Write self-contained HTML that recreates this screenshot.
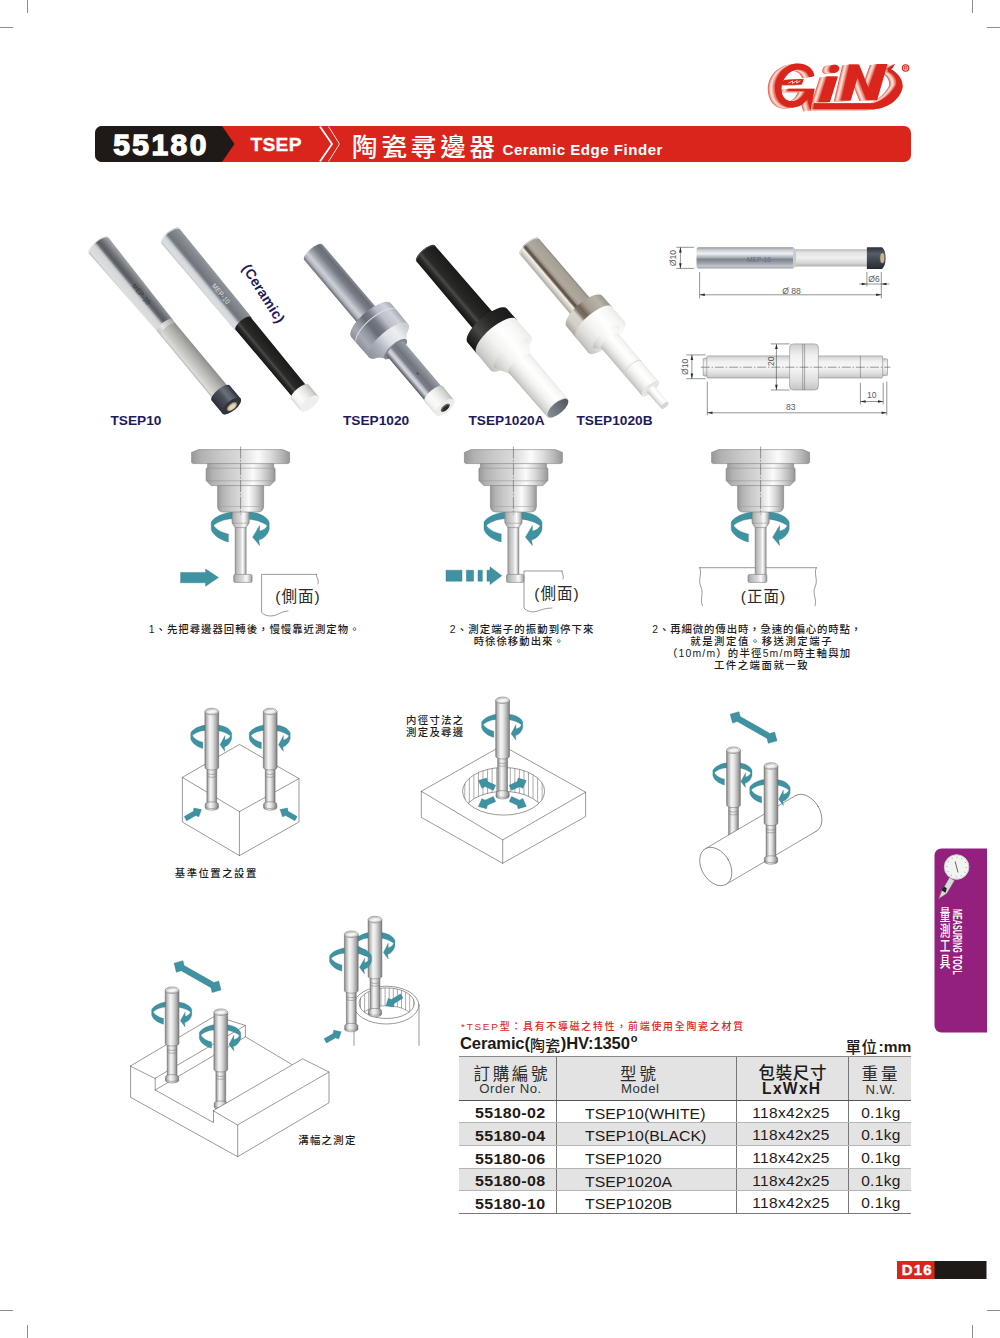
<!DOCTYPE html>
<html lang="zh-Hant">
<head>
<meta charset="utf-8">
<title>55180 TSEP Ceramic Edge Finder</title>
<style>
html,body{margin:0;padding:0;background:#fff}
#page{position:relative;width:1000px;height:1338px;overflow:hidden;background:#fff;font-family:"Liberation Sans",sans-serif;color:#1F1A17}
#art,#cjk{position:absolute;left:0;top:0;display:block}
#cjk{pointer-events:none}
#art text{font-family:"Liberation Sans",sans-serif}
#cjk text{font-family:"Liberation Sans","Noto Sans CJK TC",sans-serif}
.t{position:absolute;white-space:nowrap;line-height:1;margin:0}
.hd{color:#fff;font-weight:bold}
.cj{display:inline-block;font-size:0;line-height:0;letter-spacing:0;color:transparent;overflow:hidden;vertical-align:baseline}
#code{left:113.2px;top:130.2px;font-size:30px;letter-spacing:2.45px;-webkit-text-stroke:1.3px #fff}
#series{left:250.5px;top:135px;font-size:19.2px;letter-spacing:0.3px;-webkit-text-stroke:0.3px #fff}
#title-en{left:502.5px;top:142px;font-size:15.1px;letter-spacing:.5px}
.plabel{color:#1E1A5E;font-weight:bold;font-size:13.7px}
#spec{left:460px;top:1036px;font-size:16.6px;font-weight:bold;color:#1F1A17}
#unit{left:845.5px;top:1039px;font-size:15.5px;font-weight:bold;color:#1F1A17}
#tbl{position:absolute;left:459px;top:1056px;width:452px;border-collapse:collapse;table-layout:fixed;font-size:15px;color:#1F1A17}
#tbl th,#tbl td{padding:0;margin:0;line-height:1;white-space:nowrap;overflow:visible}
#tbl thead th{height:42.5px;background:#E3E3E3;border-top:1px solid #8a8a8a;border-bottom:1px solid #555;font-weight:normal;vertical-align:top;position:relative}
#tbl th+th,#tbl td+td{border-left:1px solid #777}
#tbl tbody td{height:21.7px;border-bottom:1px solid #b5b5b5;text-align:center;vertical-align:middle}
#tbl tbody tr:nth-child(even) td{background:#E3E3E3}
#tbl tbody tr:last-child td{border-bottom:1px solid #777}
#tbl td.no{font-weight:bold;font-size:14.7px;letter-spacing:.3px;padding-left:6px}
#tbl td span{position:relative;display:inline-block}
#tbl td.no span{top:2.4px;transform:scaleX(1.09)}
#tbl td.md span{top:2.3px;transform:scaleX(1.115);transform-origin:0 50%}
#tbl td.pk span{top:1.6px;left:-1px;letter-spacing:.3px;transform:scaleX(1.045)}
#tbl td.wt span{top:1.6px;left:.6px;letter-spacing:.35px;transform:scaleX(1.045)}
#tbl td.md{text-align:left;padding-left:28px;font-size:14.2px}
#tbl td.pk,#tbl td.wt{font-size:14.8px}
#tbl .sub{position:absolute;left:0;right:0;text-align:center;font-size:13.2px;color:#333}
#pageno{left:901.8px;top:1262.3px;font-size:15px;font-weight:bold;color:#fff;letter-spacing:1.1px;-webkit-text-stroke:0.4px #fff}

</style>
</head>
<body>
<div id="page">
<svg id="art" width="1000" height="1338" viewBox="0 0 1000 1338">
<defs>
<linearGradient id="mChrome" x1="0" y1="0" x2="0" y2="1"><stop offset="0" stop-color="#a8abaf"/><stop offset="0.08" stop-color="#96999e"/><stop offset="0.3" stop-color="#676b70"/><stop offset="0.42" stop-color="#585c61"/><stop offset="0.5" stop-color="#74787d"/><stop offset="0.56" stop-color="#bcbec1"/><stop offset="0.63" stop-color="#d6d7d9"/><stop offset="0.9" stop-color="#dddedf"/><stop offset="0.97" stop-color="#c9cacc"/><stop offset="1" stop-color="#adaeb0"/></linearGradient>
<linearGradient id="mChrome2" x1="0" y1="0" x2="0" y2="1"><stop offset="0" stop-color="#9da1a8"/><stop offset="0.1" stop-color="#8b8f96"/><stop offset="0.35" stop-color="#7b7f86"/><stop offset="0.52" stop-color="#70747b"/><stop offset="0.6" stop-color="#8d9198"/><stop offset="0.66" stop-color="#c3c6cc"/><stop offset="0.75" stop-color="#d6d9dd"/><stop offset="0.92" stop-color="#d9dce0"/><stop offset="1" stop-color="#b9bcc2"/></linearGradient>
<linearGradient id="mMatte" x1="0" y1="0" x2="0" y2="1"><stop offset="0" stop-color="#8d8d8a"/><stop offset="0.2" stop-color="#a1a19e"/><stop offset="0.45" stop-color="#b8b8b5"/><stop offset="0.7" stop-color="#cbcbc8"/><stop offset="0.88" stop-color="#dbdbd8"/><stop offset="1" stop-color="#b9b9b6"/></linearGradient>
<linearGradient id="mRing" x1="0" y1="0" x2="0" y2="1"><stop offset="0" stop-color="#a4a4a2"/><stop offset="0.3" stop-color="#c6c6c4"/><stop offset="0.65" stop-color="#e6e6e4"/><stop offset="1" stop-color="#bfbfbd"/></linearGradient>
<linearGradient id="mDarkcap" x1="0" y1="0" x2="0" y2="1"><stop offset="0" stop-color="#2a2e36"/><stop offset="0.18" stop-color="#555b67"/><stop offset="0.36" stop-color="#6a707c"/><stop offset="0.55" stop-color="#4a4f5a"/><stop offset="0.8" stop-color="#3a3f49"/><stop offset="1" stop-color="#2a2d35"/></linearGradient>
<linearGradient id="mBlack" x1="0" y1="0" x2="0" y2="1"><stop offset="0" stop-color="#1b1b1a"/><stop offset="0.3" stop-color="#222221"/><stop offset="0.55" stop-color="#2a2a29"/><stop offset="0.68" stop-color="#4a4a48"/><stop offset="0.76" stop-color="#2e2e2d"/><stop offset="0.9" stop-color="#1d1d1c"/><stop offset="1" stop-color="#141413"/></linearGradient>
<linearGradient id="mWhite" x1="0" y1="0" x2="0" y2="1"><stop offset="0" stop-color="#b9b9b6"/><stop offset="0.15" stop-color="#d4d4d1"/><stop offset="0.4" stop-color="#ededea"/><stop offset="0.65" stop-color="#fbfbfa"/><stop offset="0.88" stop-color="#f2f2f0"/><stop offset="1" stop-color="#d9d9d6"/></linearGradient>
<linearGradient id="mWhiteL" x1="0" y1="0" x2="0" y2="1"><stop offset="0" stop-color="#e9e9e6"/><stop offset="0.12" stop-color="#f6f6f4"/><stop offset="0.35" stop-color="#ffffff"/><stop offset="0.6" stop-color="#f3f3f1"/><stop offset="0.8" stop-color="#dededb"/><stop offset="0.93" stop-color="#cbcbc8"/><stop offset="1" stop-color="#b9b9b6"/></linearGradient>
<linearGradient id="mAlu" x1="0" y1="0" x2="0" y2="1"><stop offset="0" stop-color="#8b9099"/><stop offset="0.15" stop-color="#686d76"/><stop offset="0.35" stop-color="#777c85"/><stop offset="0.55" stop-color="#a3a8b0"/><stop offset="0.72" stop-color="#ccd0d6"/><stop offset="0.85" stop-color="#b2b7bf"/><stop offset="0.95" stop-color="#7b808a"/><stop offset="1" stop-color="#666b74"/></linearGradient>
<linearGradient id="mAluCollar" x1="0" y1="0" x2="0" y2="1"><stop offset="0" stop-color="#a4a9b2"/><stop offset="0.12" stop-color="#cfd2d8"/><stop offset="0.3" stop-color="#b9bdc5"/><stop offset="0.45" stop-color="#747983"/><stop offset="0.58" stop-color="#666b75"/><stop offset="0.7" stop-color="#8d929c"/><stop offset="0.85" stop-color="#a5aab3"/><stop offset="1" stop-color="#8a8f99"/></linearGradient>
<linearGradient id="mNickel" x1="0" y1="0" x2="0" y2="1"><stop offset="0" stop-color="#8e877e"/><stop offset="0.1" stop-color="#a69f96"/><stop offset="0.45" stop-color="#b0a9a0"/><stop offset="0.55" stop-color="#9a9289"/><stop offset="0.6" stop-color="#6b5d4e"/><stop offset="0.66" stop-color="#5e5245"/><stop offset="0.7" stop-color="#8c8378"/><stop offset="0.74" stop-color="#f2f0ec"/><stop offset="0.8" stop-color="#e5e2dc"/><stop offset="0.9" stop-color="#c9c5be"/><stop offset="1" stop-color="#aaa59d"/></linearGradient>
<linearGradient id="mBlackCollar" x1="0" y1="0" x2="0" y2="1"><stop offset="0" stop-color="#1a1a19"/><stop offset="0.4" stop-color="#272726"/><stop offset="0.7" stop-color="#474745"/><stop offset="0.85" stop-color="#2b2b2a"/><stop offset="1" stop-color="#161615"/></linearGradient>
<linearGradient id="mAlu2" x1="0" y1="0" x2="0" y2="1"><stop offset="0" stop-color="#9ca1aa"/><stop offset="0.15" stop-color="#8a8f98"/><stop offset="0.4" stop-color="#6f747d"/><stop offset="0.58" stop-color="#7a7f88"/><stop offset="0.7" stop-color="#c3c7ce"/><stop offset="0.8" stop-color="#d3d6dc"/><stop offset="0.9" stop-color="#8e939c"/><stop offset="1" stop-color="#4f545d"/></linearGradient>
<linearGradient id="mAluBevel" x1="0" y1="0" x2="0" y2="1"><stop offset="0" stop-color="#c4c8cf"/><stop offset="0.25" stop-color="#eceef1"/><stop offset="0.5" stop-color="#dcdfe4"/><stop offset="0.75" stop-color="#a9aeb7"/><stop offset="1" stop-color="#8f949e"/></linearGradient>
<linearGradient id="mNickelCollar" x1="0" y1="0" x2="0" y2="1"><stop offset="0" stop-color="#9c958b"/><stop offset="0.15" stop-color="#b9b2a8"/><stop offset="0.4" stop-color="#a59e94"/><stop offset="0.52" stop-color="#6f6255"/><stop offset="0.6" stop-color="#7d7166"/><stop offset="0.68" stop-color="#d9d5ce"/><stop offset="0.85" stop-color="#d3cec6"/><stop offset="1" stop-color="#a9a39a"/></linearGradient>
<linearGradient id="mSteelFace" x1="0" y1="0" x2="0" y2="1"><stop offset="0" stop-color="#50555e"/><stop offset="0.5" stop-color="#6c717a"/><stop offset="1" stop-color="#8a8f97"/></linearGradient>
<linearGradient id="tdChrome" x1="0" y1="0" x2="0" y2="1"><stop offset="0" stop-color="#8f949c"/><stop offset=".12" stop-color="#c9ccd2"/><stop offset=".3" stop-color="#eef0f3"/><stop offset=".45" stop-color="#b9bdc4"/><stop offset=".58" stop-color="#7f848d"/><stop offset=".75" stop-color="#9ea3ab"/><stop offset=".9" stop-color="#c4c7cd"/><stop offset="1" stop-color="#9a9ea6"/></linearGradient>
<linearGradient id="tdMatte" x1="0" y1="0" x2="0" y2="1"><stop offset="0" stop-color="#b9b9b8"/><stop offset=".2" stop-color="#e4e4e3"/><stop offset=".5" stop-color="#efefee"/><stop offset=".8" stop-color="#d6d6d5"/><stop offset="1" stop-color="#b0b0af"/></linearGradient>
<linearGradient id="tdCap" x1="0" y1="0" x2="0" y2="1"><stop offset="0" stop-color="#2d313b"/><stop offset=".3" stop-color="#565c69"/><stop offset=".55" stop-color="#444954"/><stop offset="1" stop-color="#262a32"/></linearGradient>
<linearGradient id="tdBody" x1="0" y1="0" x2="0" y2="1"><stop offset="0" stop-color="#cfcfcf"/><stop offset=".25" stop-color="#f0f0f0"/><stop offset=".5" stop-color="#f7f7f7"/><stop offset=".8" stop-color="#dedede"/><stop offset="1" stop-color="#c4c4c4"/></linearGradient>
<path id="arrU" d="M0 0L-1.300 5.200H1.300Z"/>
<linearGradient id="spG" x1="0" y1="0" x2="1" y2="0"><stop offset="0" stop-color="#989898"/><stop offset=".1" stop-color="#b2b2b2"/><stop offset=".3" stop-color="#c9c9c9"/><stop offset=".5" stop-color="#dadada"/><stop offset=".68" stop-color="#fbfbfb"/><stop offset=".8" stop-color="#dddddd"/><stop offset=".92" stop-color="#b6b6b6"/><stop offset="1" stop-color="#979797"/></linearGradient>
<g id="rot" fill="#3E92A1" stroke="#2F7785" stroke-width=".35" stroke-linejoin="round"><path d="M-8.60 -12.00 C-16.60 -11.20 -26.20 -7.20 -29.40 -2.00 L-29.40 5.60 C-27.80 11.20 -19.80 16.40 -12.20 18.00 L-12.20 10.00 C-18.20 8.80 -24.60 5.60 -27.00 1.44 C-23.80 -2.00 -15.80 -4.80 -8.60 -5.20 Z"/><path d="M8.60 -12.00 C17.00 -11.60 25.80 -8.00 28.60 -2.00 L28.60 5.20 C27.40 10.40 23.40 14.40 18.20 16.00 L19.00 21.60 L12.04 13.20 L19.00 1.44 L19.00 7.20 C22.60 6.40 25.40 4.40 26.76 1.76 C23.40 -1.20 16.20 -4.00 8.60 -4.80 Z"/></g>
<linearGradient id="vtG" x1="0" y1="0" x2="1" y2="0"><stop offset="0" stop-color="#808080"/><stop offset=".12" stop-color="#b4b4b4"/><stop offset=".36" stop-color="#f5f5f5"/><stop offset=".56" stop-color="#e2e2e2"/><stop offset=".8" stop-color="#b0b0b0"/><stop offset="1" stop-color="#7b7b7b"/></linearGradient>
<linearGradient id="vtTop" x1="0" y1="0" x2="1" y2="1"><stop offset="0" stop-color="#c9c9c9"/><stop offset=".5" stop-color="#f7f7f7"/><stop offset="1" stop-color="#d3d3d3"/></linearGradient>
<clipPath id="boreTop"><ellipse cx="503.60" cy="791.30" rx="41.00" ry="23.80"/></clipPath>
<clipPath id="tubeIn"><ellipse cx="386.700" cy="1003.200" rx="27.600" ry="15.300"/></clipPath>
</defs>
<g id="cropmarks" stroke="#8c8c8c" stroke-width="1" fill="none">
<path d="M27.5 0V13M0 27.5H13M972.5 0V13M987 27.5H1000M0 1310.5H13M27.5 1325V1338M987 1310.5H1000M972.5 1325V1338"/>
</g>
<g id="headerbar">
<rect x="95" y="126" width="816" height="36" rx="7" ry="7" fill="#DA251D"/>
<path d="M102 126H222L234.5 144L222 162H102A7 7 0 0 1 95 155V133A7 7 0 0 1 102 126Z" fill="#1F1A17"/>
<path d="M320 126.5L332 144L320 161.500" fill="none" stroke="#fff" stroke-width="1.8"/>
<path d="M328.500 126.500L339.500 144L328.500 161.500" fill="none" stroke="#fff" stroke-width="0.9"/>
</g>
<g id="footer">
<rect x="897" y="1261" width="38" height="18" fill="#DA251D"/>
<rect x="934.500" y="1261" width="52" height="18" fill="#1F1A17"/>
</g>
<g id="logo" transform="translate(762 56) scale(0.08)">
<defs>
<path id="lg-a" d="M655 250C650 170 570 95 450 95C300 95 160 230 160 400C160 540 240 645 370 645C460 645 530 600 565 545L605 690L660 408L330 408L318 440L535 440C510 510 450 565 380 565C290 565 240 500 245 400C250 290 340 180 440 170C510 165 570 200 590 265Z"/>
<path id="lg-b" d="M240 335L290 298L522 288L500 355L262 362Z"/>
<path id="lg-d" d="M905 108C950 108 972 132 966 162C960 195 925 213 890 212C850 211 835 188 842 158C849 128 875 108 905 108Z"/>
<path id="lg-e" d="M808 255L950 255L850 575L705 575Z"/>
<path id="lg-f" d="M985 555L1090 105L1215 105L1330 395L1435 100L1570 100L1440 550L1305 550L1195 270L1110 555Z"/>
<path id="lg-g" d="M650 590L1395 590C1515 560 1615 470 1675 360C1690 300 1650 230 1575 195L1575 150C1665 175 1760 270 1760 380C1740 520 1600 650 1395 665L640 665Z"/>
<path id="lg-h" d="M1560 160L1665 98L1640 140L1600 185Z"/>
</defs>
<g fill="#e06a58" transform="translate(-88.0 14.0)"><use href="#lg-a"/><use href="#lg-b"/><use href="#lg-d"/><use href="#lg-e"/><use href="#lg-f"/><use href="#lg-g"/><use href="#lg-h"/></g>
<g fill="#ef9f91" transform="translate(-75.4 12.0)"><use href="#lg-a"/><use href="#lg-b"/><use href="#lg-d"/><use href="#lg-e"/><use href="#lg-f"/><use href="#lg-g"/><use href="#lg-h"/></g>
<g fill="#f8cfc7" transform="translate(-62.9 10.0)"><use href="#lg-a"/><use href="#lg-b"/><use href="#lg-d"/><use href="#lg-e"/><use href="#lg-f"/><use href="#lg-g"/><use href="#lg-h"/></g>
<g fill="#fbe3de" transform="translate(-50.3 8.0)"><use href="#lg-a"/><use href="#lg-b"/><use href="#lg-d"/><use href="#lg-e"/><use href="#lg-f"/><use href="#lg-g"/><use href="#lg-h"/></g>
<g fill="#f5bdb2" transform="translate(-37.7 6.0)"><use href="#lg-a"/><use href="#lg-b"/><use href="#lg-d"/><use href="#lg-e"/><use href="#lg-f"/><use href="#lg-g"/><use href="#lg-h"/></g>
<g fill="#ec9080" transform="translate(-25.1 4.0)"><use href="#lg-a"/><use href="#lg-b"/><use href="#lg-d"/><use href="#lg-e"/><use href="#lg-f"/><use href="#lg-g"/><use href="#lg-h"/></g>
<g fill="#e56f5e" transform="translate(-12.6 2.0)"><use href="#lg-a"/><use href="#lg-b"/><use href="#lg-d"/><use href="#lg-e"/><use href="#lg-f"/><use href="#lg-g"/><use href="#lg-h"/></g>
<g fill="#DA251D"><use href="#lg-a"/><use href="#lg-b"/><use href="#lg-d"/><use href="#lg-e"/><use href="#lg-f"/><use href="#lg-g"/><use href="#lg-h"/></g>
<circle cx="1795" cy="150" r="40" fill="#f6c9c0" stroke="#DA251D" stroke-width="14"/>
<path d="M1780 172V128H1800Q1814 128 1814 140Q1814 152 1800 152H1780M1800 152L1816 172" fill="none" stroke="#DA251D" stroke-width="9"/>
<path d="M330 340L385 312L378 342L440 308L432 338L480 310" fill="none" stroke="#fff" stroke-width="11" opacity=".85"/>
</g>
<g id="photos">
<g id="tool1" transform="translate(98.60 245.40) rotate(50.40)"><path d="M0.00 -12.60A4.54 12.60 0 0 0 0.00 12.60L104.00 9.90A3.56 9.90 0 0 0 104.00 -9.90Z" fill="url(#mChrome)"/><path d="M0 -12.400A4.400 12.400 0 0 0 0 12.400" fill="none" stroke="#f4f4f5" stroke-width="1" opacity=".7"/><text x="58" y="0.800" font-size="7.400" fill="#2e2e32" opacity=".8" transform="scale(.9 1)" letter-spacing=".2">MEP-10</text><path d="M104.00 -9.80A3.53 9.80 0 0 0 104.00 9.80L109.50 9.60A3.46 9.60 0 0 0 109.50 -9.60Z" fill="url(#mRing)"/><path d="M109.50 -9.60A3.46 9.60 0 0 0 109.50 9.60L192.50 9.90A3.56 9.90 0 0 0 192.50 -9.90Z" fill="url(#mMatte)"/><path d="M191.50 -11.80A4.25 11.80 0 0 0 191.50 11.80L208.50 11.80A4.25 11.80 0 0 0 208.50 -11.80Z" fill="url(#mDarkcap)"/><ellipse cx="208.50" cy="0" rx="4.96" ry="11.80" fill="#30343c"/><ellipse cx="209.10" cy="0" rx="3.10" ry="6.20" fill="#8c7a63"/><ellipse cx="209.40" cy="0" rx="2.60" ry="5.20" fill="#cdb693"/><ellipse cx="209.70" cy="0" rx="1.80" ry="3.60" fill="#e7d8bd"/></g>
<g id="tool2" transform="translate(170.25 235.75) rotate(50.30)"><path d="M0.00 -11.70A4.21 11.70 0 0 0 0.00 11.70L114.00 10.60A3.82 10.60 0 0 0 114.00 -10.60Z" fill="url(#mChrome2)"/><path d="M0.500 -11.400A4.100 11.400 0 0 0 0.500 11.400" fill="none" stroke="#eceef1" stroke-width="1" opacity=".75"/><text x="72" y="0.500" font-size="7.200" fill="#f1f2f5" opacity=".85" transform="scale(.9 1)" letter-spacing=".2">MEP-10</text><path d="M114.00 -9.80A3.53 9.80 0 0 0 114.00 9.80L204.00 9.00A3.24 9.00 0 0 0 204.00 -9.00Z" fill="url(#mBlack)"/><path d="M203.00 -11.40A4.10 11.40 0 0 0 203.00 11.40L218.00 11.40A4.10 11.40 0 0 0 218.00 -11.40Z" fill="url(#mWhite)"/><ellipse cx="218.00" cy="0" rx="4.79" ry="11.40" fill="#efefec"/></g>
<g id="tool3" transform="translate(313.40 252.20) rotate(49.70)"><path d="M0.00 -12.00A4.32 12.00 0 0 0 0.00 12.00L92.00 12.30A4.43 12.30 0 0 0 92.00 -12.30Z" fill="url(#mAlu)"/><path d="M89.00 -26.00A9.36 26.00 0 0 0 89.00 26.00L97.00 26.00A9.36 26.00 0 0 0 97.00 -26.00Z" fill="url(#mAluCollar)"/><ellipse cx="97.00" cy="0" rx="9.36" ry="26.00" fill="#dfe2e7"/><path d="M98.00 -26.00A9.36 26.00 0 0 0 98.00 26.00L116.00 25.60A9.22 25.60 0 0 0 116.00 -25.60Z" fill="url(#mAluCollar)"/><ellipse cx="116.00" cy="0" rx="9.22" ry="25.60" fill="url(#mAluBevel)"/><path d="M116.00 -23.50A8.46 23.50 0 0 0 116.00 23.50L127.00 14.50A5.22 14.50 0 0 0 127.00 -14.50Z" fill="url(#mAluBevel)"/><ellipse cx="127.00" cy="0" rx="5.22" ry="14.50" fill="#80858f"/><path d="M127.00 -11.00A3.96 11.00 0 0 0 127.00 11.00L187.00 11.00A3.96 11.00 0 0 0 187.00 -11.00Z" fill="url(#mAlu2)"/><ellipse cx="160" cy="-1" rx="1.400" ry="1" fill="#4c5058"/><path d="M186.00 -12.00A4.32 12.00 0 0 0 186.00 12.00L203.50 11.60A4.18 11.60 0 0 0 203.50 -11.60Z" fill="url(#mWhite)"/><ellipse cx="203.50" cy="0" rx="5.22" ry="11.60" fill="#ecece9"/><ellipse cx="204.00" cy="0" rx="2.52" ry="5.60" fill="#5a5a5e"/><ellipse cx="204.60" cy="0" rx="1.71" ry="3.80" fill="#2a2a2d"/></g>
<g id="tool4" transform="translate(425.60 253.40) rotate(49.50)"><path d="M0.00 -12.20A4.39 12.20 0 0 0 0.00 12.20L97.00 13.00A4.68 13.00 0 0 0 97.00 -13.00Z" fill="url(#mBlack)"/><path d="M0.500 -11.800A4.200 11.800 0 0 0 0.500 11.800" fill="none" stroke="#5a5a58" stroke-width="1" opacity=".8"/><path d="M95.00 -26.00A9.36 26.00 0 0 0 95.00 26.00L109.00 26.20A9.43 26.20 0 0 0 109.00 -26.20Z" fill="url(#mBlackCollar)"/><path d="M109.00 -26.20A9.43 26.20 0 0 0 109.00 26.20L131.00 26.40A9.50 26.40 0 0 0 131.00 -26.40Z" fill="url(#mWhiteL)"/><ellipse cx="131.00" cy="0" rx="9.50" ry="26.40" fill="url(#mWhiteL)"/><path d="M132.00 -22.00A7.92 22.00 0 0 0 132.00 22.00L146.00 14.30A5.15 14.30 0 0 0 146.00 -14.30Z" fill="url(#mWhiteL)"/><path d="M145.00 -14.30A5.15 14.30 0 0 0 145.00 14.30L203.00 13.70A4.93 13.70 0 0 0 203.00 -13.70Z" fill="url(#mWhiteL)"/><ellipse cx="203.00" cy="0" rx="5.75" ry="13.70" fill="#d9d9d6"/><ellipse cx="203.60" cy="0" rx="5.42" ry="12.90" fill="url(#mSteelFace)"/></g>
<g id="tool5" transform="translate(529.20 246.20) rotate(49.60)"><path d="M0.00 -12.30A4.43 12.30 0 0 0 0.00 12.30L87.00 12.80A4.61 12.80 0 0 0 87.00 -12.80Z" fill="url(#mNickel)"/><path d="M0.500 -11.900A4.300 11.900 0 0 0 0.500 11.900" fill="none" stroke="#e8e5e0" stroke-width="1" opacity=".8"/><path d="M85.00 -23.50A8.46 23.50 0 0 0 85.00 23.50L100.00 23.80A8.57 23.80 0 0 0 100.00 -23.80Z" fill="url(#mNickelCollar)"/><path d="M100.00 -23.80A8.57 23.80 0 0 0 100.00 23.80L119.00 24.00A8.64 24.00 0 0 0 119.00 -24.00Z" fill="url(#mWhiteL)"/><ellipse cx="119.00" cy="0" rx="8.64" ry="24.00" fill="url(#mWhiteL)"/><path d="M119.50 -17.00A6.12 17.00 0 0 0 119.50 17.00L125.50 11.40A4.10 11.40 0 0 0 125.50 -11.40Z" fill="url(#mWhiteL)"/><path d="M124.50 -11.20A4.03 11.20 0 0 0 124.50 11.20L187.00 11.00A3.96 11.00 0 0 0 187.00 -11.00Z" fill="url(#mWhiteL)"/><path d="M160 -11.100A4 11.100 0 0 0 160 11.100" fill="none" stroke="#d2d2ce" stroke-width=".8"/><ellipse cx="187.00" cy="0" rx="3.96" ry="11.00" fill="#e6e6e3"/><path d="M188.00 -4.90A1.76 4.90 0 0 0 188.00 4.90L209.00 4.60A1.66 4.60 0 0 0 209.00 -4.60Z" fill="url(#mWhiteL)"/><ellipse cx="209.00" cy="0" rx="2.07" ry="4.60" fill="#d6d6d3"/></g>
<text transform="translate(241.500 268) rotate(57.500)" font-size="14" font-weight="bold" fill="#1E1A5E" letter-spacing=".25">(Ceramic)</text>
</g>
<g id="techdraw" font-size="8.400" fill="#5a5a5a">
<g id="td1">
<path d="M698.500 247.300H793.200V268.400H698.500Q696.500 268.400 696.500 266V249.700Q696.500 247.300 698.500 247.300Z" fill="url(#tdChrome)"/>
<rect x="793.200" y="249.200" width="73.900" height="17.300" fill="url(#tdMatte)"/>
<path d="M793.200 247.300L796 249.200V266.500L793.200 268.400Z" fill="#c9cace"/>
<path d="M866.900 247.300H882Q885.600 250 885.600 258.100Q885.600 266 882 268.900H866.900Z" fill="url(#tdCap)"/>
<ellipse cx="882.300" cy="258.100" rx="2.300" ry="5.200" fill="#cdb592" stroke="#6d6458" stroke-width=".5"/>
<text x="758.900" y="261.600" text-anchor="middle" font-size="6.600" fill="#6a6e76">MEP-10</text>
<g stroke="#3a3a3a" stroke-width=".55" fill="none">
<path d="M676.300 247.300H694M676.300 268.400H694M680.400 247.300V268.400"/>
<path d="M866.900 272V286.400M881.300 272V286.400M859 284H889.500"/>
<path d="M699.600 272V298.400M881.300 286V298.400M699.600 294.800H881.300"/>
</g>
<g fill="#2a2a2a">
<use href="#arrU" transform="translate(680.400 247.300)"/>
<use href="#arrU" transform="translate(680.400 268.400) rotate(180)"/>
<use href="#arrU" transform="translate(866.900 284) rotate(90)"/>
<use href="#arrU" transform="translate(881.300 284) rotate(-90)"/>
<use href="#arrU" transform="translate(699.600 294.800) rotate(-90)"/>
<use href="#arrU" transform="translate(881.300 294.800) rotate(90)"/>
</g>
<text transform="translate(675.800 258) rotate(-90)" text-anchor="middle" font-size="8.600">&#216;10</text>
<text x="874" y="282" text-anchor="middle" font-size="8.600">&#216;6</text>
<text x="791.500" y="294.300" text-anchor="middle" font-size="8.600">&#216; 88</text>
</g>
<g id="td2">
<g stroke="#8b8b8b" stroke-width=".6">
<rect x="703.200" y="358.300" width="5" height="17.700" rx="1" fill="url(#tdBody)"/>
<rect x="880" y="358.800" width="7.500" height="16.800" rx="1" fill="url(#tdBody)"/>
<rect x="706.800" y="355.900" width="175.900" height="22.100" rx="1.200" fill="url(#tdBody)"/>
<rect x="789.600" y="343.900" width="28.800" height="46.100" rx="3.800" fill="url(#tdBody)"/>
<path d="M802.700 343.900V390M804.600 343.900V390M860.400 355.900V378" fill="none" stroke="#777"/>
</g>
<path d="M700.800 367.200H890.400" stroke="#444" stroke-width=".55" stroke-dasharray="9 1.800 1.500 1.800" fill="none"/>
<g stroke="#3a3a3a" stroke-width=".55" fill="none">
<path d="M686.400 354.900H705.600M686.400 378.700H705.600M691.900 354.900V378.700"/>
<path d="M770.900 343.900H789.600M770.900 390H789.600M776.400 343.900V390"/>
<path d="M860.400 382.800V404.400M883.200 382.800V404.400M860.400 401.500H883.200"/>
<path d="M707.300 381.600V415.200M886.800 381.600V415.200M707.300 412.800H886.800"/>
</g>
<g fill="#2a2a2a">
<use href="#arrU" transform="translate(691.900 354.900)"/>
<use href="#arrU" transform="translate(691.900 378.700) rotate(180)"/>
<use href="#arrU" transform="translate(776.400 343.900)"/>
<use href="#arrU" transform="translate(776.400 390) rotate(180)"/>
<use href="#arrU" transform="translate(860.400 401.500) rotate(-90)"/>
<use href="#arrU" transform="translate(883.200 401.500) rotate(90)"/>
<use href="#arrU" transform="translate(707.300 412.800) rotate(-90)"/>
<use href="#arrU" transform="translate(886.800 412.800) rotate(90)"/>
</g>
<text transform="translate(688.400 366.800) rotate(-90)" text-anchor="middle" font-size="8.600">&#216;10</text>
<text transform="translate(773.600 361.200) rotate(-90)" text-anchor="middle" font-size="8.600">20</text>
<text x="871.800" y="398.400" text-anchor="middle" font-size="8.600">10</text>
<text x="790.800" y="410.400" text-anchor="middle" font-size="8.600">83</text>
</g>
</g>
<g id="spindles">
<g fill="none" stroke="#555" stroke-width=".6" stroke-linejoin="round" stroke-linecap="round"><path d="M316.400 574.400H261.600V612.400C264 615.500 269 616.500 274 615.600C279 614.500 281 611.500 288 611"/><path d="M316.400 574.400C316 578 319.500 579.500 318 584"/><path d="M562 571H524V608C527 611.500 532 612.500 536 611.500C541 610 543 608.500 552 608"/><path d="M562 571C561.500 574 564.500 575.500 563 579"/><path d="M699.700 567.700H816.300"/><path d="M699.700 567.700C702.500 574 697.500 580 701 587C704 594 699.500 600 702.400 605.500"/><path d="M816.300 567.700C813.500 574 818.500 580 815 587C812 594 817.500 600 815 605.500"/></g>
<g id="sp1"><use href="#rot" x="240.60" y="524"/><rect x="235.10" y="526" width="11" height="49.500" fill="url(#spG)" stroke="#777" stroke-width=".55"/><rect x="233.70" y="574.400" width="18.40" height="8" rx="1.500" fill="url(#spG)" stroke="#777" stroke-width=".55"/><path d="M232.00 511V522.600L233.00 524.400L235.10 527.600H246.10L248.20 524.400L249.20 522.600V511Z" fill="url(#spG)" stroke="#777" stroke-width=".55" stroke-linejoin="round"/><path d="M232.30 523.200H248.90" stroke="#8a8a8a" stroke-width=".5"/><path d="M217.60 484V506Q217.60 512 223.60 512H257.60Q263.60 512 263.60 506V484Z" fill="url(#spG)" stroke="#777" stroke-width=".55"/><path d="M217.80 506.500H263.40" stroke="#9a9a9a" stroke-width=".5"/><path d="M207.60 462.00 L207.60 467.40 L206.10 468.60 L206.10 480.50 L211.10 485.60 L270.10 485.60 L275.10 480.50 L275.10 468.60 L273.60 467.40 L273.60 462.00Z" fill="url(#spG)" stroke="#777" stroke-width=".55" stroke-linejoin="round"/><path d="M206.60 468.200H274.60M206.40 480.800H274.80" stroke="#8d8d8d" stroke-width=".5"/><path d="M198.60 449.60 L191.60 452.40 L191.60 462.40 L192.80 463.60 L288.40 463.60 L289.60 462.40 L289.60 452.40 L282.60 449.60Z" fill="url(#spG)" stroke="#777" stroke-width=".55" stroke-linejoin="round"/><path d="M240.60 446.500V514.500" stroke="#555" stroke-width=".55" stroke-dasharray="12 1.600 1.600 1.600" fill="none"/></g>
<g id="sp2"><use href="#rot" x="513.40" y="524"/><rect x="507.90" y="526" width="11" height="49.500" fill="url(#spG)" stroke="#777" stroke-width=".55"/><rect x="506.50" y="574.400" width="17.50" height="8" rx="1.500" fill="url(#spG)" stroke="#777" stroke-width=".55"/><path d="M504.80 511V522.600L505.80 524.400L507.90 527.600H518.90L521.00 524.400L522.00 522.600V511Z" fill="url(#spG)" stroke="#777" stroke-width=".55" stroke-linejoin="round"/><path d="M505.10 523.200H521.70" stroke="#8a8a8a" stroke-width=".5"/><path d="M490.40 484V506Q490.40 512 496.40 512H530.40Q536.40 512 536.40 506V484Z" fill="url(#spG)" stroke="#777" stroke-width=".55"/><path d="M490.60 506.500H536.20" stroke="#9a9a9a" stroke-width=".5"/><path d="M480.40 462.00 L480.40 467.40 L478.90 468.60 L478.90 480.50 L483.90 485.60 L542.90 485.60 L547.90 480.50 L547.90 468.60 L546.40 467.40 L546.40 462.00Z" fill="url(#spG)" stroke="#777" stroke-width=".55" stroke-linejoin="round"/><path d="M479.40 468.200H547.40M479.20 480.800H547.60" stroke="#8d8d8d" stroke-width=".5"/><path d="M471.40 449.60 L464.40 452.40 L464.40 462.40 L465.60 463.60 L561.20 463.60 L562.40 462.40 L562.40 452.40 L555.40 449.60Z" fill="url(#spG)" stroke="#777" stroke-width=".55" stroke-linejoin="round"/><path d="M513.40 446.500V514.500" stroke="#555" stroke-width=".55" stroke-dasharray="12 1.600 1.600 1.600" fill="none"/></g>
<g id="sp3"><use href="#rot" x="760.60" y="524"/><rect x="755.10" y="526" width="11" height="49.500" fill="url(#spG)" stroke="#777" stroke-width=".55"/><rect x="748.00" y="574.400" width="18.90" height="8" rx="1.500" fill="url(#spG)" stroke="#777" stroke-width=".55"/><path d="M752.00 511V522.600L753.00 524.400L755.10 527.600H766.10L768.20 524.400L769.20 522.600V511Z" fill="url(#spG)" stroke="#777" stroke-width=".55" stroke-linejoin="round"/><path d="M752.30 523.200H768.90" stroke="#8a8a8a" stroke-width=".5"/><path d="M737.60 484V506Q737.60 512 743.60 512H777.60Q783.60 512 783.60 506V484Z" fill="url(#spG)" stroke="#777" stroke-width=".55"/><path d="M737.80 506.500H783.40" stroke="#9a9a9a" stroke-width=".5"/><path d="M727.60 462.00 L727.60 467.40 L726.10 468.60 L726.10 480.50 L731.10 485.60 L790.10 485.60 L795.10 480.50 L795.10 468.60 L793.60 467.40 L793.60 462.00Z" fill="url(#spG)" stroke="#777" stroke-width=".55" stroke-linejoin="round"/><path d="M726.60 468.200H794.60M726.40 480.800H794.80" stroke="#8d8d8d" stroke-width=".5"/><path d="M718.60 449.60 L711.60 452.40 L711.60 462.40 L712.80 463.60 L808.40 463.60 L809.60 462.40 L809.60 452.40 L802.60 449.60Z" fill="url(#spG)" stroke="#777" stroke-width=".55" stroke-linejoin="round"/><path d="M760.60 446.500V514.500" stroke="#555" stroke-width=".55" stroke-dasharray="12 1.600 1.600 1.600" fill="none"/></g>
<path d="M180.600 572.400H205.600V569L218.500 577.600L205.600 586.200V582.800H180.600Z" fill="#3E92A1" stroke="#2F7785" stroke-width=".4"/>
<path d="M446 570.200H462V581.200H446ZM466.400 570.200H473.600V581.200H466.400ZM478 570.200H482.400V581.200H478ZM487 570.200H490V566.800L501.800 575.700L490 584.600V581.200H487Z" fill="#3E92A1" stroke="#2F7785" stroke-width=".4"/>
</g>
<g id="blocks">
<path d="M182.40 777.40L239.40 744.40L299.00 778.60L239.40 811.60L182.40 777.40" fill="none" stroke="#555" stroke-width=".6" stroke-linejoin="round" stroke-linecap="round"/><path d="M182.40 777.40L182.40 822.00L239.40 855.60L299.00 822.00L299.00 778.60" fill="none" stroke="#555" stroke-width=".6" stroke-linejoin="round" stroke-linecap="round"/><path d="M239.40 811.60L239.40 855.60" fill="none" stroke="#555" stroke-width=".6" stroke-linejoin="round" stroke-linecap="round"/>
<use href="#rot" transform="translate(211.50 734.49) scale(0.707 0.783)"/><path d="M206.90 767.80V804.10H216.70V767.80Z" fill="url(#vtG)" stroke="#666" stroke-width=".5" stroke-linejoin="round"/><path d="M206.90 772.80A4.90 1.700 0 0 0 216.70 772.80M206.90 775.60A4.90 1.700 0 0 0 216.70 775.60" fill="none" stroke="#777" stroke-width=".5"/><path d="M205.20 804.10V807.70A6.60 2.500 0 0 0 218.40 807.70V804.10A6.60 2.300 0 0 0 205.20 804.10Z" fill="url(#vtG)" stroke="#666" stroke-width=".5" stroke-linejoin="round"/><path d="M205.20 806.20A6.60 2.400 0 0 0 218.40 806.20" fill="none" stroke="#777" stroke-width=".5"/><path d="M204.90 711.50V767.40A6.90 2.600 0 0 0 218.70 767.40V711.50Z" fill="url(#vtG)" stroke="#666" stroke-width=".5" stroke-linejoin="round"/><ellipse cx="211.80" cy="711.50" rx="6.90" ry="3.300" fill="url(#vtTop)" stroke="#666" stroke-width=".5" stroke-linejoin="round"/><ellipse cx="211.80" cy="711.70" rx="5.40" ry="2.300" fill="none" stroke="#8a8a8a" stroke-width=".4"/>
<use href="#rot" transform="translate(270.00 734.49) scale(0.707 0.783)"/><path d="M265.30 767.80V804.10H275.10V767.80Z" fill="url(#vtG)" stroke="#666" stroke-width=".5" stroke-linejoin="round"/><path d="M265.30 772.80A4.90 1.700 0 0 0 275.10 772.80M265.30 775.60A4.90 1.700 0 0 0 275.10 775.60" fill="none" stroke="#777" stroke-width=".5"/><path d="M263.60 804.10V807.70A6.60 2.500 0 0 0 276.80 807.70V804.10A6.60 2.300 0 0 0 263.60 804.10Z" fill="url(#vtG)" stroke="#666" stroke-width=".5" stroke-linejoin="round"/><path d="M263.60 806.20A6.60 2.400 0 0 0 276.80 806.20" fill="none" stroke="#777" stroke-width=".5"/><path d="M263.30 711.50V767.40A6.90 2.600 0 0 0 277.10 767.40V711.50Z" fill="url(#vtG)" stroke="#666" stroke-width=".5" stroke-linejoin="round"/><ellipse cx="270.20" cy="711.50" rx="6.90" ry="3.300" fill="url(#vtTop)" stroke="#666" stroke-width=".5" stroke-linejoin="round"/><ellipse cx="270.20" cy="711.70" rx="5.40" ry="2.300" fill="none" stroke="#8a8a8a" stroke-width=".4"/>
<path d="M186.58 820.69L195.75 815.53L198.80 816.80L201.40 809.60L193.89 808.09L193.40 811.35L184.22 816.51Z" fill="#3E92A1" stroke="#2F7785" stroke-width=".4" stroke-linejoin="miter"/>
<path d="M297.18 816.51L288.00 811.35L287.51 808.09L280.00 809.60L282.60 816.80L285.65 815.53L294.82 820.69Z" fill="#3E92A1" stroke="#2F7785" stroke-width=".4" stroke-linejoin="miter"/>
<path d="M421.30 791.30L502.30 745.40L585.60 792.20L502.70 839.90L421.30 791.30" fill="none" stroke="#555" stroke-width=".6" stroke-linejoin="round" stroke-linecap="round"/><path d="M421.30 791.30L421.30 817.40L502.70 863.30L585.60 816.50L585.60 792.20" fill="none" stroke="#555" stroke-width=".6" stroke-linejoin="round" stroke-linecap="round"/><path d="M502.70 839.90L502.70 863.30" fill="none" stroke="#555" stroke-width=".6" stroke-linejoin="round" stroke-linecap="round"/>
<g clip-path="url(#boreTop)"><path d="M464.80 766.50V815.10M469.35 766.50V815.10M473.90 766.50V815.10M478.45 766.50V815.10M483.00 766.50V815.10M487.55 766.50V815.10M492.10 766.50V815.10M496.65 766.50V815.10M501.20 766.50V815.10M505.75 766.50V815.10M510.30 766.50V815.10M514.85 766.50V815.10M519.40 766.50V815.10M523.95 766.50V815.10M528.50 766.50V815.10M533.05 766.50V815.10M537.60 766.50V815.10M542.15 766.50V815.10" fill="none" stroke="#666" stroke-width=".55"/><ellipse cx="503.60" cy="815.20" rx="41.00" ry="23.80" fill="#fff" stroke="#555" stroke-width=".6"/></g>
<ellipse cx="503.60" cy="791.30" rx="41.00" ry="23.80" fill="none" stroke="#555" stroke-width=".6"/>
<use href="#rot" transform="translate(502.50 723.49) scale(0.710 0.774)"/>
<path d="M497.70 756.80V792.90H507.50V756.80Z" fill="url(#vtG)" stroke="#666" stroke-width=".5" stroke-linejoin="round"/><path d="M497.70 761.80A4.90 1.700 0 0 0 507.50 761.80M497.70 764.60A4.90 1.700 0 0 0 507.50 764.60" fill="none" stroke="#777" stroke-width=".5"/><path d="M496.00 792.90V796.50A6.60 2.500 0 0 0 509.20 796.50V792.90A6.60 2.300 0 0 0 496.00 792.90Z" fill="url(#vtG)" stroke="#666" stroke-width=".5" stroke-linejoin="round"/><path d="M496.00 795.00A6.60 2.400 0 0 0 509.20 795.00" fill="none" stroke="#777" stroke-width=".5"/><path d="M495.70 700.30V756.40A6.90 2.600 0 0 0 509.50 756.40V700.30Z" fill="url(#vtG)" stroke="#666" stroke-width=".5" stroke-linejoin="round"/><ellipse cx="502.60" cy="700.30" rx="6.90" ry="3.300" fill="url(#vtTop)" stroke="#666" stroke-width=".5" stroke-linejoin="round"/><ellipse cx="502.60" cy="700.50" rx="5.40" ry="2.300" fill="none" stroke="#8a8a8a" stroke-width=".4"/>
<path d="M495.66 785.25L487.43 781.52L486.54 778.04L478.40 780.50L481.92 788.24L485.11 786.62L493.34 790.35Z" fill="#3E92A1" stroke="#2F7785" stroke-width=".4" stroke-linejoin="miter"/>
<path d="M511.57 790.34L519.62 786.65L522.82 788.26L526.30 780.50L518.15 778.08L517.28 781.56L509.23 785.26Z" fill="#3E92A1" stroke="#2F7785" stroke-width=".4" stroke-linejoin="miter"/>
<path d="M493.33 796.46L485.08 800.25L481.88 798.64L478.40 806.40L486.55 808.82L487.42 805.34L495.67 801.54Z" fill="#3E92A1" stroke="#2F7785" stroke-width=".4" stroke-linejoin="miter"/>
<path d="M509.22 801.54L517.29 805.29L518.13 808.78L526.30 806.40L522.86 798.62L519.65 800.22L511.58 796.46Z" fill="#3E92A1" stroke="#2F7785" stroke-width=".4" stroke-linejoin="miter"/>
<path d="M730.20 714.20L732.55 723.01L737.29 721.56L767.05 738.48L768.22 743.29L777.00 740.80L774.65 731.99L769.91 733.44L740.15 716.52L738.98 711.71Z" fill="#3E92A1" stroke="#2F7785" stroke-width=".4" stroke-linejoin="miter"/>
<use href="#rot" transform="translate(732.70 771.63) scale(0.676 0.744)"/>
<path d="M728.60 805.40V836.00H738.40V805.40Z" fill="url(#vtG)" stroke="#666" stroke-width=".5" stroke-linejoin="round"/><path d="M728.60 810.40A4.90 1.700 0 0 0 738.40 810.40M728.60 813.20A4.90 1.700 0 0 0 738.40 813.20" fill="none" stroke="#777" stroke-width=".5"/><path d="M726.60 750.20V805.00A6.90 2.600 0 0 0 740.40 805.00V750.20Z" fill="url(#vtG)" stroke="#666" stroke-width=".5" stroke-linejoin="round"/><ellipse cx="733.50" cy="750.20" rx="6.90" ry="3.300" fill="url(#vtTop)" stroke="#666" stroke-width=".5" stroke-linejoin="round"/><ellipse cx="733.50" cy="750.40" rx="5.40" ry="2.300" fill="none" stroke="#8a8a8a" stroke-width=".4"/>
<ellipse cx="805.84" cy="813.46" rx="14.20" ry="20.60" transform="rotate(-30.50 805.84 813.46)" fill="#fff" stroke="#555" stroke-width=".6" stroke-linejoin="round" stroke-linecap="round"/>
<path d="M705.34 848.75L795.38 795.71L816.30 831.21L726.26 884.25Z" fill="#fff"/>
<path d="M705.34 848.75L795.38 795.71" fill="none" stroke="#555" stroke-width=".6" stroke-linejoin="round" stroke-linecap="round"/><path d="M726.26 884.25L816.30 831.21" fill="none" stroke="#555" stroke-width=".6" stroke-linejoin="round" stroke-linecap="round"/>
<ellipse cx="715.80" cy="866.50" rx="14.20" ry="20.60" transform="rotate(-30.50 715.80 866.50)" fill="#fff" stroke="#555" stroke-width=".6" stroke-linejoin="round" stroke-linecap="round"/>
<use href="#rot" transform="translate(770.20 788.86) scale(0.697 0.780)"/>
<path d="M766.10 823.40V858.10H775.90V823.40Z" fill="url(#vtG)" stroke="#666" stroke-width=".5" stroke-linejoin="round"/><path d="M766.10 828.40A4.90 1.700 0 0 0 775.90 828.40M766.10 831.20A4.90 1.700 0 0 0 775.90 831.20" fill="none" stroke="#777" stroke-width=".5"/><path d="M764.40 858.10V861.70A6.60 2.500 0 0 0 777.60 861.70V858.10A6.60 2.300 0 0 0 764.40 858.10Z" fill="url(#vtG)" stroke="#666" stroke-width=".5" stroke-linejoin="round"/><path d="M764.40 860.20A6.60 2.400 0 0 0 777.60 860.20" fill="none" stroke="#777" stroke-width=".5"/><path d="M764.10 766.00V823.00A6.90 2.600 0 0 0 777.90 823.00V766.00Z" fill="url(#vtG)" stroke="#666" stroke-width=".5" stroke-linejoin="round"/><ellipse cx="771.00" cy="766.00" rx="6.90" ry="3.300" fill="url(#vtTop)" stroke="#666" stroke-width=".5" stroke-linejoin="round"/><ellipse cx="771.00" cy="766.20" rx="5.40" ry="2.300" fill="none" stroke="#8a8a8a" stroke-width=".4"/>
</g>
<g id="bottom">
<path d="M174.10 963.30L176.36 972.29L181.14 970.74L211.00 987.67L212.13 992.57L221.00 989.90L218.74 980.91L213.96 982.46L184.10 965.53L182.97 960.63Z" fill="#3E92A1" stroke="#2F7785" stroke-width=".4" stroke-linejoin="miter"/>
<path d="M130.60 1065.90L215.00 1015.90L245.40 1025.40L155.20 1078.20Z" fill="none" stroke="#555" stroke-width=".6" stroke-linejoin="round" stroke-linecap="round"/><path d="M155.20 1078.20L155.20 1090.00L245.40 1036.80L245.40 1025.40" fill="none" stroke="#555" stroke-width=".6" stroke-linejoin="round" stroke-linecap="round"/><path d="M155.20 1090.00L213.50 1122.60L213.50 1110.50" fill="none" stroke="#555" stroke-width=".6" stroke-linejoin="round" stroke-linecap="round"/><path d="M245.40 1036.80L291.60 1064.30" fill="none" stroke="#555" stroke-width=".6" stroke-linejoin="round" stroke-linecap="round"/>
<path d="M130.60 1065.90L130.60 1097.30L237.70 1156.70L329.00 1102.80L329.00 1072.00" fill="none" stroke="#555" stroke-width=".6" stroke-linejoin="round" stroke-linecap="round"/><path d="M237.70 1124.80L237.70 1156.70" fill="none" stroke="#555" stroke-width=".6" stroke-linejoin="round" stroke-linecap="round"/>
<use href="#rot" transform="translate(172.00 1010.93) scale(0.693 0.744)"/>
<path d="M167.20 1043.80V1076.90H177.00V1043.80Z" fill="url(#vtG)" stroke="#666" stroke-width=".5" stroke-linejoin="round"/><path d="M167.20 1048.80A4.90 1.700 0 0 0 177.00 1048.80M167.20 1051.60A4.90 1.700 0 0 0 177.00 1051.60" fill="none" stroke="#777" stroke-width=".5"/><path d="M165.50 1076.90V1080.50A6.60 2.500 0 0 0 178.70 1080.50V1076.90A6.60 2.300 0 0 0 165.50 1076.90Z" fill="url(#vtG)" stroke="#666" stroke-width=".5" stroke-linejoin="round"/><path d="M165.50 1079.00A6.60 2.400 0 0 0 178.70 1079.00" fill="none" stroke="#777" stroke-width=".5"/><path d="M165.20 990.20V1043.40A6.90 2.600 0 0 0 179.00 1043.40V990.20Z" fill="url(#vtG)" stroke="#666" stroke-width=".5" stroke-linejoin="round"/><ellipse cx="172.10" cy="990.20" rx="6.90" ry="3.300" fill="url(#vtTop)" stroke="#666" stroke-width=".5" stroke-linejoin="round"/><ellipse cx="172.10" cy="990.40" rx="5.40" ry="2.300" fill="none" stroke="#8a8a8a" stroke-width=".4"/>
<use href="#rot" transform="translate(220.30 1034.09) scale(0.714 0.783)"/>
<path d="M215.90 1069.80V1103.30H225.70V1069.80Z" fill="url(#vtG)" stroke="#666" stroke-width=".5" stroke-linejoin="round"/><path d="M215.90 1074.80A4.90 1.700 0 0 0 225.70 1074.80M215.90 1077.60A4.90 1.700 0 0 0 225.70 1077.60" fill="none" stroke="#777" stroke-width=".5"/><path d="M214.20 1103.30V1106.90A6.60 2.500 0 0 0 227.40 1106.90V1103.30A6.60 2.300 0 0 0 214.20 1103.30Z" fill="url(#vtG)" stroke="#666" stroke-width=".5" stroke-linejoin="round"/><path d="M214.20 1105.40A6.60 2.400 0 0 0 227.40 1105.40" fill="none" stroke="#777" stroke-width=".5"/><path d="M213.90 1012.20V1069.40A6.90 2.600 0 0 0 227.70 1069.40V1012.20Z" fill="url(#vtG)" stroke="#666" stroke-width=".5" stroke-linejoin="round"/><ellipse cx="220.80" cy="1012.20" rx="6.90" ry="3.300" fill="url(#vtTop)" stroke="#666" stroke-width=".5" stroke-linejoin="round"/><ellipse cx="220.80" cy="1012.40" rx="5.40" ry="2.300" fill="none" stroke="#8a8a8a" stroke-width=".4"/>
<path d="M213.50 1110.50L302.60 1058.80L329.00 1072.00L237.70 1124.80Z" fill="#fff" stroke="#555" stroke-width=".6" stroke-linejoin="round" stroke-linecap="round"/>
<path d="M354 1005.100V1045.400M419 1005.100V1045.400" fill="none" stroke="#555" stroke-width=".6" stroke-linejoin="round" stroke-linecap="round"/>
<ellipse cx="386.40" cy="1005.10" rx="32.500" ry="18.900" fill="#fff" stroke="#555" stroke-width=".6" stroke-linejoin="round" stroke-linecap="round"/>
<g clip-path="url(#tubeIn)"><path d="M360.50 985V1020M364.60 985V1020M368.70 985V1020M372.80 985V1020M376.90 985V1020M381.00 985V1020M385.10 985V1020M389.20 985V1020M393.30 985V1020M397.40 985V1020M401.50 985V1020M405.60 985V1020M409.70 985V1020M413.80 985V1020" fill="none" stroke="#666" stroke-width=".55"/><ellipse cx="386.700" cy="1021" rx="27.600" ry="15.300" fill="#fff" stroke="#555" stroke-width=".5"/></g>
<ellipse cx="386.700" cy="1003.200" rx="27.600" ry="15.300" fill="none" stroke="#555" stroke-width=".6"/>
<use href="#rot" transform="translate(375.00 942.03) scale(0.697 0.786)"/>
<path d="M370.10 976.70V1010.70H379.90V976.70Z" fill="url(#vtG)" stroke="#666" stroke-width=".5" stroke-linejoin="round"/><path d="M370.10 981.70A4.90 1.700 0 0 0 379.90 981.70M370.10 984.50A4.90 1.700 0 0 0 379.90 984.50" fill="none" stroke="#777" stroke-width=".5"/><path d="M368.40 1010.70V1014.30A6.60 2.500 0 0 0 381.60 1014.30V1010.70A6.60 2.300 0 0 0 368.40 1010.70Z" fill="url(#vtG)" stroke="#666" stroke-width=".5" stroke-linejoin="round"/><path d="M368.40 1012.80A6.60 2.400 0 0 0 381.60 1012.80" fill="none" stroke="#777" stroke-width=".5"/><path d="M368.10 919.60V976.30A6.90 2.600 0 0 0 381.90 976.30V919.60Z" fill="url(#vtG)" stroke="#666" stroke-width=".5" stroke-linejoin="round"/><ellipse cx="375.00" cy="919.60" rx="6.90" ry="3.300" fill="url(#vtTop)" stroke="#666" stroke-width=".5" stroke-linejoin="round"/><ellipse cx="375.00" cy="919.80" rx="5.40" ry="2.300" fill="none" stroke="#8a8a8a" stroke-width=".4"/>
<path d="M400.43 993.96L391.37 999.62L388.27 998.49L386.00 1005.80L393.57 1006.97L393.91 1003.69L402.97 998.04Z" fill="#3E92A1" stroke="#2F7785" stroke-width=".4" stroke-linejoin="miter"/>
<use href="#rot" transform="translate(350.80 957.19) scale(0.724 0.774)"/>
<path d="M346.40 991.00V1025.70H356.20V991.00Z" fill="url(#vtG)" stroke="#666" stroke-width=".5" stroke-linejoin="round"/><path d="M346.40 996.00A4.90 1.700 0 0 0 356.20 996.00M346.40 998.80A4.90 1.700 0 0 0 356.20 998.80" fill="none" stroke="#777" stroke-width=".5"/><path d="M344.70 1025.70V1029.30A6.60 2.500 0 0 0 357.90 1029.30V1025.70A6.60 2.300 0 0 0 344.70 1025.70Z" fill="url(#vtG)" stroke="#666" stroke-width=".5" stroke-linejoin="round"/><path d="M344.70 1027.80A6.60 2.400 0 0 0 357.90 1027.80" fill="none" stroke="#777" stroke-width=".5"/><path d="M344.40 934.30V990.60A6.90 2.600 0 0 0 358.20 990.60V934.30Z" fill="url(#vtG)" stroke="#666" stroke-width=".5" stroke-linejoin="round"/><ellipse cx="351.30" cy="934.30" rx="6.90" ry="3.300" fill="url(#vtTop)" stroke="#666" stroke-width=".5" stroke-linejoin="round"/><ellipse cx="351.30" cy="934.50" rx="5.40" ry="2.300" fill="none" stroke="#8a8a8a" stroke-width=".4"/>
<path d="M326.49 1042.98L335.60 1037.77L338.65 1039.02L341.20 1031.80L333.68 1030.34L333.21 1033.61L324.11 1038.82Z" fill="#3E92A1" stroke="#2F7785" stroke-width=".4" stroke-linejoin="miter"/>
</g>
<g id="sidetab">
<path d="M941.500 848.500H987V1032.500H941.500A7 7 0 0 1 934.500 1025.500V855.500A7 7 0 0 1 941.500 848.500Z" fill="#931F7E"/>
<g id="gauge">
<path d="M938.600 898.800L941.500 890.500L944.200 886.800L949.500 877.500L954.500 880.500L949 889.800L946.800 893.500Z" fill="#d9d9d9" stroke="#6b6b6b" stroke-width=".5"/>
<path d="M941.300 890.200L944 886.500L946.800 888.300L945.600 892.800Z" fill="#222"/>
<path d="M938.400 899.200L941.400 891.500" stroke="#c0392b" stroke-width=".7"/>
<circle cx="956.600" cy="867" r="12.300" fill="#f3f3f1" stroke="#c9c9c9" stroke-width="1"/>
<circle cx="956.600" cy="867" r="9.800" fill="none" stroke="#9a9a9a" stroke-width="1.200" stroke-dasharray=".8 4.300"/>
<path d="M955.200 861.500L958 872.500" stroke="#444" stroke-width=".8"/>
</g>
<text transform="translate(952.700 909) rotate(90) scale(.55 1)" font-size="12.800" font-weight="bold" fill="#fff" letter-spacing=".2">MEASURING TOOL</text>
</g>

</svg>
<h1 class="t hd" id="code">55180</h1>
<div class="t hd" id="series">TSEP</div>
<div class="t hd" id="title-en"><span class="cj">陶瓷尋邊器 </span>Ceramic Edge Finder</div>
<div class="t plabel" style="left:110.500px;top:413.900px">TSEP10</div>
<div class="t plabel" style="left:343px;top:413.900px">TSEP1020</div>
<div class="t plabel" style="left:468.500px;top:413.900px">TSEP1020A</div>
<div class="t plabel" style="left:576.500px;top:413.900px">TSEP1020B</div>
<div class="t" id="spec"><span style="letter-spacing:-.15px">Ceramic(<span class="cj" style="width:31px">陶瓷</span>)HV:1350<span style="font-size:11px;position:relative;top:-7px;left:1px">o</span></span></div>
<div class="t" id="unit"><span class="cj" style="width:33px">單位</span>:mm</div>
<table id="tbl">
<colgroup><col style="width:97px"><col style="width:180px"><col style="width:112.500px"><col style="width:62.500px"></colgroup>
<thead><tr>
<th><span class="cj">訂購編號</span><span class="sub" style="top:25.200px;left:6.500px;letter-spacing:.5px">Order No.</span></th>
<th><span class="cj">型號</span><span class="sub" style="top:25.200px;left:-11.500px;letter-spacing:.5px">Model</span></th>
<th><span class="cj">包裝尺寸</span><span class="sub" style="top:24.300px;left:-1px;font-size:15.600px;font-weight:bold;color:#1F1A17;letter-spacing:1.3px">LxWxH</span></th>
<th><span class="cj">重量</span><span class="sub" style="top:26.300px;left:1px;letter-spacing:.3px">N.W.</span></th>
</tr></thead>
<tbody>
<tr><td class="no"><span>55180-02</span></td><td class="md"><span>TSEP10(WHITE)</span></td><td class="pk"><span>118x42x25</span></td><td class="wt"><span>0.1kg</span></td></tr>
<tr><td class="no"><span>55180-04</span></td><td class="md"><span>TSEP10(BLACK)</span></td><td class="pk"><span>118x42x25</span></td><td class="wt"><span>0.1kg</span></td></tr>
<tr><td class="no"><span>55180-06</span></td><td class="md"><span>TSEP1020</span></td><td class="pk"><span>118x42x25</span></td><td class="wt"><span>0.1kg</span></td></tr>
<tr><td class="no"><span>55180-08</span></td><td class="md"><span>TSEP1020A</span></td><td class="pk"><span>118x42x25</span></td><td class="wt"><span>0.1kg</span></td></tr>
<tr><td class="no"><span>55180-10</span></td><td class="md"><span>TSEP1020B</span></td><td class="pk"><span>118x42x25</span></td><td class="wt"><span>0.1kg</span></td></tr>
</tbody>
</table>
<div class="t" id="pageno">D16</div>

<svg id="cjk" width="1000" height="1338" viewBox="0 0 1000 1338">
<text x="352" y="155.500" font-size="25.500" font-weight="500" letter-spacing="3.900" fill="#fff">陶瓷尋邊器</text>
<text x="461" y="1030.300" font-size="9.900" font-weight="500" letter-spacing="1.800" fill="#DA251D">*TSEP型：具有不導磁之特性，前端使用全陶瓷之材質</text>
<text x="530" y="1050.500" font-size="15" font-weight="500" letter-spacing=".3" fill="#1F1A17">陶瓷</text>
<text x="845.500" y="1053" font-size="15.500" font-weight="500" letter-spacing=".6" fill="#1F1A17">單位</text>
<text x="473.600" y="1080" font-size="16.500" letter-spacing="2.600" fill="#2b2b2b">訂購編號</text>
<text x="619.900" y="1080" font-size="16.500" letter-spacing="3.200" fill="#2b2b2b">型號</text>
<text x="758.600" y="1078.500" font-size="16.500" font-weight="500" letter-spacing=".6" fill="#1F1A17">包裝尺寸</text>
<text x="861.400" y="1080" font-size="16.500" letter-spacing="3.200" fill="#2b2b2b">重量</text>
<text transform="translate(939.850 920) scale(.7 1)" font-size="15.300" font-weight="500" fill="#fff">量</text>
<text transform="translate(939.850 935.500) scale(.7 1)" font-size="15.300" font-weight="500" fill="#fff">測</text>
<text transform="translate(939.850 951) scale(.7 1)" font-size="15.300" font-weight="500" fill="#fff">工</text>
<text transform="translate(939.850 966.500) scale(.7 1)" font-size="15.300" font-weight="500" fill="#fff">具</text>
<text x="275.260" y="602.300" font-size="15.500" letter-spacing="1" fill="#2a2a2a">(側面)</text>
<text x="534.260" y="598.800" font-size="15.500" letter-spacing="1" fill="#2a2a2a">(側面)</text>
<text x="740.760" y="601.800" font-size="15.500" letter-spacing="1" fill="#2a2a2a">(正面)</text>
<text x="148.740" y="632.800" font-size="10.400" font-weight="500" letter-spacing="1" fill="#1c1c1c">1、先把尋邊器回轉後，慢慢靠近測定物。</text>
<text x="449.840" y="632.800" font-size="10.400" font-weight="500" letter-spacing="1.100" fill="#1c1c1c">2、測定端子的振動到停下來</text>
<text x="473.700" y="645.200" font-size="10.400" font-weight="500" letter-spacing="1" fill="#1c1c1c">時徐徐移動出來。</text>
<text x="652.240" y="632.800" font-size="10.400" font-weight="500" letter-spacing=".9" fill="#1c1c1c">2、再細微的傳出時，急速的偏心的時點，</text>
<text x="690.350" y="645" font-size="10.400" font-weight="500" letter-spacing="1.500" fill="#1c1c1c">就是測定值。移送測定端子</text>
<text x="666.940" y="657.200" font-size="10.400" font-weight="500" letter-spacing="1.200" fill="#1c1c1c">（10m/m）的半徑5m/m時主軸與加</text>
<text x="713.950" y="669.400" font-size="10.400" font-weight="500" letter-spacing="1.500" fill="#1c1c1c">工件之端面就一致</text>
<text x="174.850" y="877" font-size="10.400" font-weight="500" letter-spacing="1.450" fill="#1c1c1c">基準位置之設置</text>
<text x="406" y="724.300" font-size="10.400" font-weight="500" letter-spacing="1.300" fill="#1c1c1c">内徑寸法之</text>
<text x="406" y="736" font-size="10.400" font-weight="500" letter-spacing="1.300" fill="#1c1c1c">測定及尋邊</text>
<text x="298.200" y="1143.600" font-size="10.400" font-weight="500" letter-spacing="1.300" fill="#1c1c1c">溝幅之測定</text>
</svg>
</div>
</body>
</html>
